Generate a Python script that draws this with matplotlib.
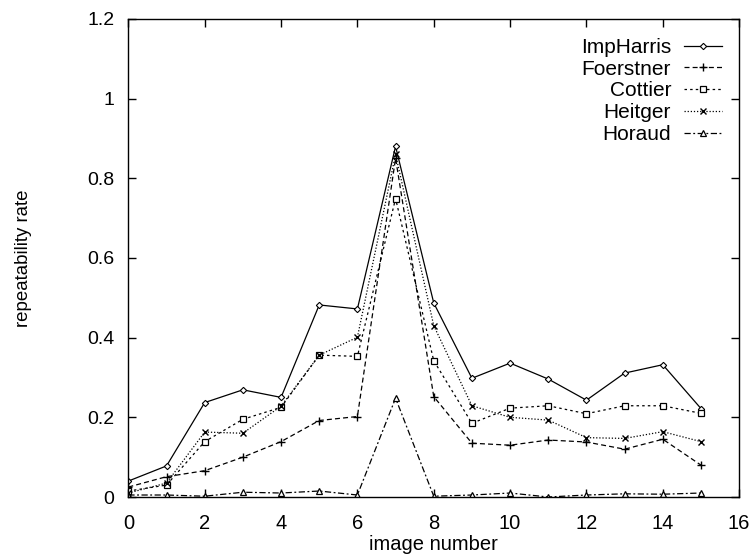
import matplotlib
matplotlib.use("Agg")
import matplotlib.pyplot as plt
from matplotlib.ticker import FixedLocator

plt.rcParams['font.family'] = ['Liberation Sans', 'DejaVu Sans']

images = list(range(16))
imp_harris = [0.04, 0.078, 0.237, 0.269, 0.25, 0.482, 0.472, 0.88, 0.487, 0.298, 0.336, 0.296, 0.243, 0.311, 0.332, 0.222]
foerstner = [0.025, 0.051, 0.066, 0.10, 0.139, 0.192, 0.202, 0.85, 0.252, 0.135, 0.13, 0.143, 0.138, 0.12, 0.145, 0.08]
cottier = [0.015, 0.03, 0.139, 0.195, 0.225, 0.356, 0.353, 0.749, 0.342, 0.185, 0.223, 0.229, 0.209, 0.229, 0.229, 0.21]
heitger = [0.01, 0.035, 0.163, 0.16, 0.228, 0.356, 0.401, 0.86, 0.43, 0.229, 0.2, 0.193, 0.149, 0.147, 0.164, 0.139]
horaud = [0.005, 0.005, 0.002, 0.012, 0.01, 0.015, 0.005, 0.248, 0.002, 0.005, 0.01, 0.0, 0.005, 0.008, 0.007, 0.01]

x_ticks = [0, 2, 4, 6, 8, 10, 12, 14, 16]
y_ticks = [0, 0.2, 0.4, 0.6, 0.8, 1.0, 1.2]
y_tick_labels = ['0', '0.2', '0.4', '0.6', '0.8', '1', '1.2']

fig = plt.figure(figsize=(7.55, 5.55), dpi=100)
ax = fig.add_axes([0.170, 0.1045, 0.809, 0.8615])

lw = 0.9
ax.plot(images, imp_harris, color='black', lw=lw, linestyle='-', marker='D', markersize=3.2,
        markerfacecolor='white', markeredgewidth=0.8, label='ImpHarris')
ax.plot(images, foerstner, color='black', lw=lw, linestyle=(0, (4, 2.5)), marker='+', markersize=5.5,
        markeredgewidth=1.0, label='Foerstner')
ax.plot(images, cottier, color='black', lw=lw, linestyle=(0, (2, 2.5)), marker='s', markersize=4.5,
        markerfacecolor='white', markeredgewidth=0.9, label='Cottier')
ax.plot(images, heitger, color='black', lw=lw, linestyle=(0, (1, 1.5)), marker='x', markersize=5,
        markeredgewidth=1.0, label='Heitger')
ax.plot(images, horaud, color='black', lw=lw, linestyle=(0, (5, 2, 1.5, 2)), marker='^', markersize=4.2,
        markerfacecolor='white', markeredgewidth=0.9, label='Horaud')

ax.set_xlim(0, 16)
ax.set_ylim(0, 1.2)
ax.xaxis.set_major_locator(FixedLocator(x_ticks))
ax.set_yticks(y_ticks)
ax.set_yticklabels(y_tick_labels)
ax.tick_params(direction='in', length=6, width=1, top=True, right=True)
ax.tick_params(axis='y', labelsize=14, pad=10)
ax.tick_params(axis='x', labelsize=14.5, pad=12.5)
for s in ax.spines.values():
    s.set_linewidth(1.0)

ax.set_xlabel('image number', fontsize=14.5, labelpad=1)
ax.set_ylabel('repeatability rate', fontsize=13.4, labelpad=40)

leg = ax.legend(loc='upper right', frameon=False, markerfirst=False, fontsize=15,
                handlelength=1.85, handletextpad=0.6, labelspacing=0.13,
                borderaxespad=0.0, borderpad=0.0, bbox_to_anchor=(0.972, 0.96))

fig.savefig('out.png', dpi=100)
